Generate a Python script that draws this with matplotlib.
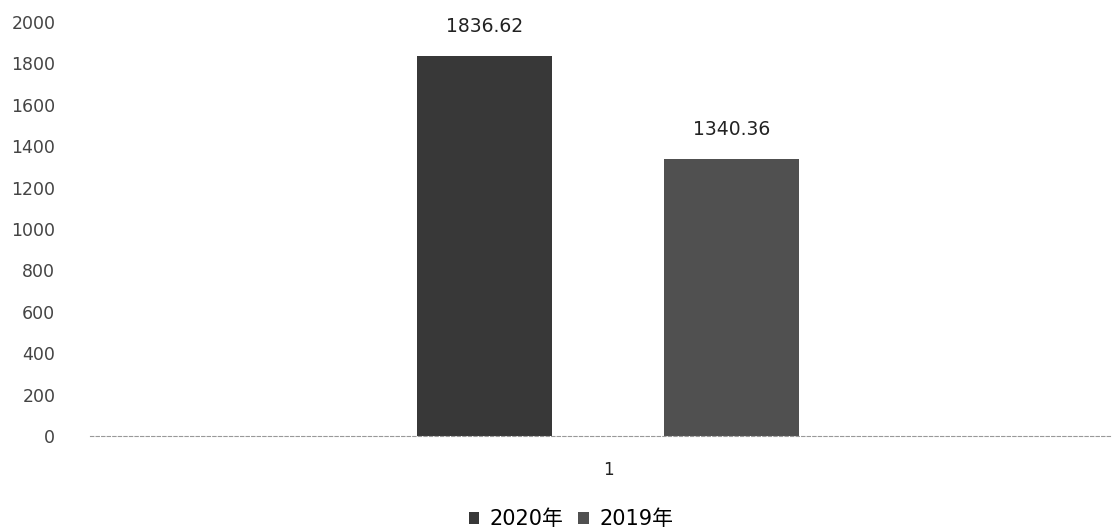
import matplotlib.pyplot as plt

plt.rcParams['font.family'] = ['DejaVu Sans', 'Noto Sans CJK SC']

categories = ['1']
series_names = ['2020年', '2019年']
values_2020 = [1836.62]
values_2019 = [1340.36]
yticks = [0, 200, 400, 600, 800, 1000, 1200, 1400, 1600, 1800, 2000]

fig = plt.figure(figsize=(11.13, 5.32), dpi=100)
ax = fig.add_axes([90 / 1113, 96 / 532, 1020 / 1113, 414 / 532])

width = 0.132
offset = 0.121
b1 = ax.bar([-offset], values_2020, width, color='#383838', label=series_names[0])
b2 = ax.bar([offset], values_2019, width, color='#505050', label=series_names[1])

for bars, vals in ((b1, values_2020), (b2, values_2019)):
    for r, v in zip(bars, vals):
        ax.annotate(f'{v:.2f}', (r.get_x() + r.get_width() / 2, v),
                    xytext=(0, 14), textcoords='offset points',
                    ha='center', va='bottom', fontsize=13.5, color='#222222')

ax.set_xlim(-0.508, 0.492)
ax.set_ylim(0, 2000)
ax.set_yticks(yticks)
ax.set_yticklabels([str(t) for t in yticks], fontsize=12.5, color='#444444')
ax.set_xticks([0])
ax.set_xticklabels(categories, fontsize=12, color='#222222')
ax.tick_params(axis='y', length=0, pad=25)
ax.tick_params(axis='x', length=0, pad=18)

for s in ('top', 'right', 'left'):
    ax.spines[s].set_visible(False)
ax.spines['bottom'].set_color('#999999')
ax.spines['bottom'].set_linestyle((0, (3, 2)))
ax.spines['bottom'].set_linewidth(0.8)

fig.legend(loc='lower center', bbox_to_anchor=(0.513, -0.03), ncol=2, frameon=False,
           fontsize=15, handlelength=0.5, handleheight=0.5, handletextpad=0.5,
           columnspacing=0.7)

plt.savefig('out.png', dpi=100)
